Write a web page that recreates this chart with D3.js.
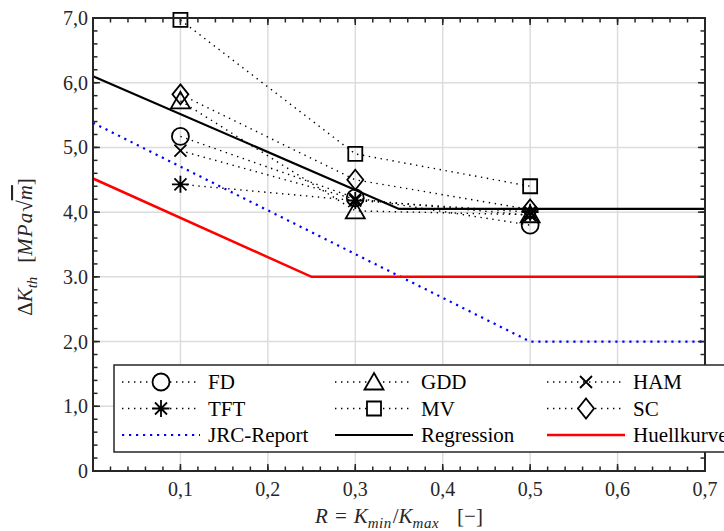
<!DOCTYPE html>
<html>
<head>
<meta charset="utf-8">
<script src="https://cdn.jsdelivr.net/npm/d3@7"></script>
<style>
  body { margin: 0; background: #fff; }
  text { font-family: "Liberation Serif", "Times New Roman", "DejaVu Serif", serif; }
  .tick-label { font-size: 20px; fill: #262626; }
  .axis-title { font-size: 21px; fill: #262626; }
  .legend-text { font-size: 21px; fill: #000; }
</style>
</head>
<body>
<svg id="chart" width="724" height="531"></svg>
<script>
// measured points at R = 0.1, 0.3, 0.5
var rValues = [0.1, 0.3, 0.5];
var fdValues  = [5.17, 4.22, 3.80];
var gddValues = [5.72, 4.02, 3.96];
var hamValues = [4.95, 4.20, 3.95];
var tftValues = [4.43, 4.18, 4.00];
var mvValues  = [6.97, 4.90, 4.40];
var scValues  = [5.82, 4.50, 4.04];

// reference curves
var jrcR = [0, 0.5, 0.7];
var jrcK = [5.38, 2.0, 2.0];
var regR = [0, 0.35, 0.7];
var regK = [6.10, 4.05, 4.05];
var huelR = [0, 0.25, 0.7];
var huelK = [4.52, 3.0, 3.0];

var xTicks = [0.1, 0.2, 0.3, 0.4, 0.5, 0.6, 0.7];
var xTickLabels = ["0,1", "0,2", "0,3", "0,4", "0,5", "0,6", "0,7"];
var yTicks = [0, 1, 2, 3, 4, 5, 6, 7];
var yTickLabels = ["0", "1,0", "2,0", "3.0", "4,0", "5,0", "6,0", "7,0"];

var seriesNames = ["FD", "GDD", "HAM", "TFT", "MV", "SC"];
var seriesValues = [fdValues, gddValues, hamValues, tftValues, mvValues, scValues];
var seriesMarkers = ["circle", "triangle", "x", "asterisk", "square", "diamond"];

(function() {
var svg = d3.select("#chart");
var pLeft = 93, pRight = 705, pTop = 18, pBottom = 471;

var x = d3.scaleLinear().domain([0, 0.7]).range([pLeft, pRight]);
var y = d3.scaleLinear().domain([0, 7]).range([pBottom, pTop]);

var axisColor = "#262626";

// grid
var grid = svg.append("g").attr("class", "grid");
grid.selectAll(".gx").data(xTicks.slice(0, -1)).enter().append("line")
  .attr("x1", function(d) { return x(d); }).attr("x2", function(d) { return x(d); })
  .attr("y1", pTop).attr("y2", pBottom)
  .attr("stroke", "#dcdcdc").attr("stroke-width", 1.5);
grid.selectAll(".gy").data(yTicks.slice(1, -1)).enter().append("line")
  .attr("x1", pLeft).attr("x2", pRight)
  .attr("y1", function(d) { return y(d); }).attr("y2", function(d) { return y(d); })
  .attr("stroke", "#dcdcdc").attr("stroke-width", 1.5);

// marker paths, centred on 0,0
function markerPath(type) {
  switch (type) {
    case "circle": return "M8.5,0A8.5,8.5 0 1,1 -8.5,0A8.5,8.5 0 1,1 8.5,0Z";
    case "triangle": return "M0,-9L9.5,7.5L-9.5,7.5Z";
    case "x": return "M-6,-6L6,6M-6,6L6,-6";
    case "asterisk": return "M-8.5,0L8.5,0M0,-8.5L0,8.5M-6,-6L6,6M-6,6L6,-6";
    case "square": return "M-7,-7L7,-7L7,7L-7,7Z";
    case "diamond": return "M0,-10L8,0L0,10L-8,0Z";
  }
}

var line = d3.line().x(function(d) { return x(d[0]); }).y(function(d) { return y(d[1]); });

// series dotted lines + markers
var dataArea = svg.append("g").attr("class", "data");
seriesValues.forEach(function(vals, i) {
  var pts = vals.map(function(v, j) { return [rValues[j], v]; });
  var g = dataArea.append("g").attr("class", "series");
  g.append("path")
    .attr("d", line(pts))
    .attr("fill", "none")
    .attr("stroke", "#000")
    .attr("stroke-width", 1.4)
    .attr("stroke-dasharray", "1.4 4.6");
  g.selectAll(".mk").data(pts).enter().append("path")
    .attr("class", "mk")
    .attr("transform", function(d) { return "translate(" + x(d[0]) + "," + y(d[1]) + ")"; })
    .attr("d", markerPath(seriesMarkers[i]))
    .attr("fill", "none")
    .attr("stroke", "#000")
    .attr("stroke-width", 1.8);
});

function zipPts(rs, ks) { return rs.map(function(r, i) { return [r, ks[i]]; }); }

dataArea.append("path").attr("d", line(zipPts(jrcR, jrcK)))
  .attr("fill", "none").attr("stroke", "#0000ff").attr("stroke-width", 2.2)
  .attr("stroke-dasharray", "2.2 4.8");
dataArea.append("path").attr("d", line(zipPts(regR, regK)))
  .attr("fill", "none").attr("stroke", "#000").attr("stroke-width", 2.2);
dataArea.append("path").attr("d", line(zipPts(huelR, huelK)))
  .attr("fill", "none").attr("stroke", "#ff0000").attr("stroke-width", 2.5);

// axes frame with inward ticks
var axes = svg.append("g").attr("class", "axes");
var xMinor = d3.range(0, 0.7001, 0.02);
var yMinor = d3.range(0, 7.001, 0.2);
function tickLines(g, data, fn, len) {
  g.selectAll(null).data(data).enter().append("line")
    .each(function(d) { fn(d3.select(this), d, len); })
    .attr("stroke", axisColor).attr("stroke-width", 1.5);
}
tickLines(axes, xMinor, function(s, d, l) { s.attr("x1", x(d)).attr("x2", x(d)).attr("y1", pBottom).attr("y2", pBottom - l); }, 4.5);
tickLines(axes, xMinor, function(s, d, l) { s.attr("x1", x(d)).attr("x2", x(d)).attr("y1", pTop).attr("y2", pTop + l); }, 4.5);
tickLines(axes, yMinor, function(s, d, l) { s.attr("y1", y(d)).attr("y2", y(d)).attr("x1", pLeft).attr("x2", pLeft + l); }, 4.5);
tickLines(axes, yMinor, function(s, d, l) { s.attr("y1", y(d)).attr("y2", y(d)).attr("x1", pRight).attr("x2", pRight - l); }, 4.5);
tickLines(axes, yTicks, function(s, d, l) { s.attr("y1", y(d)).attr("y2", y(d)).attr("x1", pLeft).attr("x2", pLeft + l); }, 7);
tickLines(axes, yTicks, function(s, d, l) { s.attr("y1", y(d)).attr("y2", y(d)).attr("x1", pRight).attr("x2", pRight - l); }, 7);
tickLines(axes, xTicks, function(s, d, l) { s.attr("x1", x(d)).attr("x2", x(d)).attr("y1", pBottom).attr("y2", pBottom - l); }, 7);
tickLines(axes, xTicks, function(s, d, l) { s.attr("x1", x(d)).attr("x2", x(d)).attr("y1", pTop).attr("y2", pTop + l); }, 7);
axes.append("rect")
  .attr("x", pLeft).attr("y", pTop).attr("width", pRight - pLeft).attr("height", pBottom - pTop)
  .attr("fill", "none").attr("stroke", axisColor).attr("stroke-width", 2);

// tick labels
axes.selectAll(".xl").data(xTicks).enter().append("text")
  .attr("class", "tick-label")
  .attr("x", function(d) { return x(d); })
  .attr("y", pBottom + 25)
  .attr("text-anchor", "middle")
  .text(function(d, i) { return xTickLabels[i]; });
axes.selectAll(".yl").data(yTicks).enter().append("text")
  .attr("class", "tick-label")
  .attr("x", pLeft - 5)
  .attr("y", function(d) { return y(d); })
  .attr("dy", "0.35em")
  .attr("text-anchor", "end")
  .text(function(d, i) { return yTickLabels[i]; });

// axis titles
var xt = svg.append("text").attr("class", "axis-title")
  .attr("x", (pLeft + pRight) / 2).attr("y", 523).attr("text-anchor", "middle");
xt.append("tspan").attr("font-style", "italic").text("R");
xt.append("tspan").attr("dx", 7).text("=");
xt.append("tspan").attr("dx", 7).attr("font-style", "italic").text("K");
xt.append("tspan").attr("font-style", "italic").attr("font-size", "15px").attr("dy", 5).attr("letter-spacing", "0.5px").text("min");
xt.append("tspan").attr("dy", -5).attr("dx", 1).text("/");
xt.append("tspan").attr("font-style", "italic").text("K");
xt.append("tspan").attr("font-style", "italic").attr("font-size", "15px").attr("dy", 5).attr("letter-spacing", "0.5px").text("max");
xt.append("tspan").attr("dy", -5).attr("dx", 18).text("[−]");

var yt = svg.append("text").attr("class", "axis-title")
  .attr("transform", "translate(32," + 247 + ") rotate(-90)")
  .attr("text-anchor", "middle");
yt.append("tspan").text("Δ");
yt.append("tspan").attr("font-style", "italic").text("K");
yt.append("tspan").attr("font-style", "italic").attr("font-size", "15px").attr("dy", 5).text("th");
yt.append("tspan").attr("dy", -5).attr("dx", 14).text("[");
yt.append("tspan").attr("font-style", "italic").attr("letter-spacing", "1px").text("MPa");
yt.append("tspan").text("√");
yt.append("tspan").attr("font-style", "italic").style("text-decoration", "overline").text("m");
yt.append("tspan").text("]");

// legend
var legendX = 114, legendY = 365, legendW = 640, legendH = 87;
var rowsY = [382, 408.5, 435];
var colCenter = [161, 374, 586];
var segHalf = 39;
var textGap = 47;

var legend = svg.append("g").attr("class", "legend");
legend.append("rect")
  .attr("x", legendX).attr("y", legendY).attr("width", legendW).attr("height", legendH)
  .attr("fill", "#fff").attr("stroke", axisColor).attr("stroke-width", 1.5);

var legendItems = seriesNames.map(function(n, i) {
  return { name: n, marker: seriesMarkers[i], color: "#000", dash: "1.4 4.6", width: 1.4 };
}).concat([
  { name: "JRC-Report", color: "#0000ff", dash: "2.2 4.8", width: 2.2 },
  { name: "Regression", color: "#000", dash: null, width: 2.2 },
  { name: "Huellkurve", color: "#ff0000", dash: null, width: 2.5 }
]);

legendItems.forEach(function(it, i) {
  var row = Math.floor(i / 3), col = i % 3;
  var ly = rowsY[row], cx = colCenter[col];
  var g = legend.append("g");
  g.append("line")
    .attr("x1", cx - segHalf).attr("x2", cx + segHalf).attr("y1", ly).attr("y2", ly)
    .attr("stroke", it.color).attr("stroke-width", it.width)
    .attr("stroke-dasharray", it.dash);
  if (it.marker) {
    g.append("path")
      .attr("transform", "translate(" + cx + "," + ly + ")")
      .attr("d", markerPath(it.marker))
      .attr("fill", "#fff").attr("stroke", "#000").attr("stroke-width", 1.8);
  }
  g.append("text").attr("class", "legend-text")
    .attr("x", cx + textGap).attr("y", ly).attr("dy", "0.35em")
    .text(it.name);
});
})();
</script>
</body>
</html>
